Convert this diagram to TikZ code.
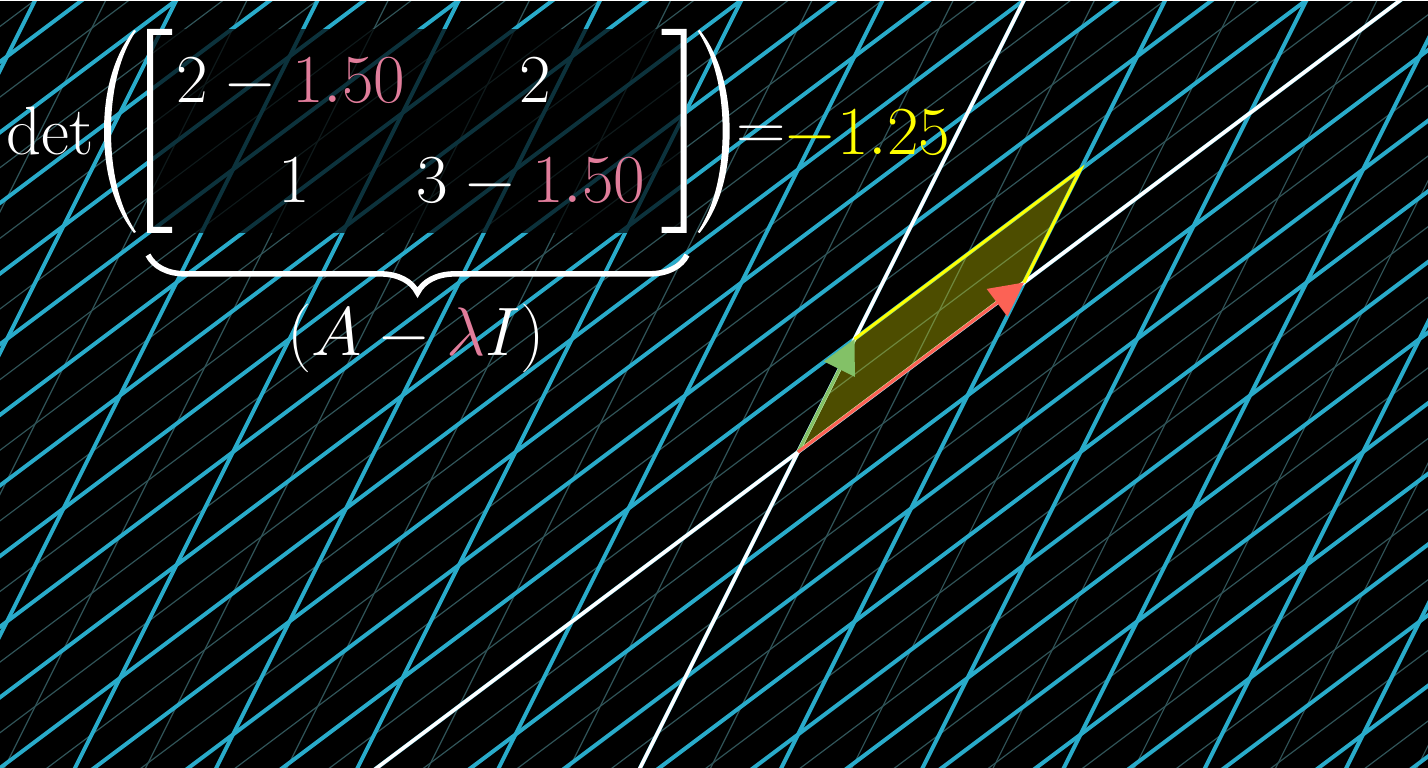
\documentclass[tikz,border=0pt]{standalone}
\usepackage{amsmath}
\usetikzlibrary{arrows.meta,decorations.pathreplacing}
\definecolor{gridblue}{RGB}{41,171,202}
\definecolor{gridfaint}{RGB}{48,84,88}
\definecolor{ivec}{RGB}{131,193,103}
\definecolor{jvec}{RGB}{252,98,85}
\definecolor{lampink}{RGB}{225,125,155}
\definecolor{detyellow}{RGB}{255,255,0}

\begin{document}
\begin{tikzpicture}[
    screen/.style={shift={(0,6.796)},x=0.0088496cm,y=-0.0088496cm},
    txt/.style={text=white,font=\fontsize{17.28}{20}\selectfont,inner sep=0pt},
    vec/.style={line width=0.8pt,-{Triangle[length=8.5pt,width=8.5pt]}}]
  \useasboundingbox (0,0) rectangle (12.637,6.796);
  \fill[black] (0,0) rectangle (12.637,6.796);
  \coordinate (O) at (7.062,2.796);
  \coordinate (I) at (7.562,3.796);
  \coordinate (J) at (9.062,4.296);
  \coordinate (IJ) at (9.562,5.296);
  % grid after A - 1.5 I, columns (0.5,1) and (2,1.5)
  \begin{scope}
    \clip (0,0) rectangle (12.637,6.796);
    \begin{scope}[shift={(O)},cm={0.5,1,2,1.5,(0,0)}]
      \foreach \k in {-12,...,15}
        \draw[gridfaint,line width=0.3pt] (\k+0.5,-9) -- (\k+0.5,7);
      \foreach \k in {-9,...,6}
        \draw[gridfaint,line width=0.3pt] (-13,\k+0.5) -- (16,\k+0.5);
      \foreach \k in {-12,...,15}
        \draw[gridblue,line width=1pt] (\k,-9) -- (\k,7);
      \foreach \k in {-9,...,6}
        \draw[gridblue,line width=1pt] (-13,\k) -- (16,\k);
      % axes
      \draw[white,line width=0.9pt] (-13,0) -- (16,0);
      \draw[white,line width=0.9pt] (0,-9) -- (0,7);
    \end{scope}
  \end{scope}
  % unit cell and basis vectors
  \fill[detyellow,fill opacity=0.3] (O) -- (I) -- (IJ) -- (J) -- cycle;
  \draw[detyellow,line width=0.75pt] (I) -- (IJ) -- (J);
  \draw[vec,ivec] (O) -- (I);
  \draw[vec,jvec] (O) -- (J);
  % formula, placed in pixel units
  \begin{scope}[screen]
    \fill[white] (0,0) rectangle (1428,1.5);
    \fill[black,opacity=0.7] (147,29) rectangle (687,233);
    \node[txt,anchor=base] (det) at (50,155) {$\det$};
    % parentheses
    \fill[white] (134,30) .. controls (112,58) and (104,95) .. (104,131)
      .. controls (104,168) and (112,205) .. (134,233)
      -- (136,232) .. controls (118,205) and (111,168) .. (111,131)
      .. controls (111,95) and (118,58) .. (136,31) -- cycle;
    \fill[white] (699.6,30) .. controls (721.6,58) and (729.6,95) .. (729.6,131)
      .. controls (729.6,168) and (721.6,205) .. (699.6,233)
      -- (697.6,232) .. controls (715.6,205) and (722.6,168) .. (722.6,131)
      .. controls (722.6,95) and (715.6,58) .. (697.6,31) -- cycle;
    % brackets
    \fill[white] (147,29) -- (172,29) -- (172,35) -- (153,35) -- (153,227)
      -- (172,227) -- (172,233) -- (147,233) -- cycle;
    \fill[white] (686.6,29) -- (661.6,29) -- (661.6,35) -- (680.6,35) -- (680.6,227)
      -- (661.6,227) -- (661.6,233) -- (686.6,233) -- cycle;
    % entries
    \node[txt,anchor=base] (a11) at (291,103) {$2-\textcolor{lampink}{1.50}$};
    \node[txt,anchor=base] (a12) at (535,103) {$2$};
    \node[txt,anchor=base] (a21) at (294,203) {$1$};
    \node[txt,anchor=base] (a22) at (531,203) {$3-\textcolor{lampink}{1.50}$};
    \node[txt,anchor=base] (eq) at (761,151) {$=$};
    \node[txt,anchor=base,text=detyellow] (val) at (867,155) {$-1.25$};
    % underbrace
    \draw[white,line width=1.4pt,decorate,decoration={brace,mirror,amplitude=9.5pt}]
      (148,255) -- (687,255);
    \node[txt,anchor=base] (AlamI) at (416,355) {$(A-\textcolor{lampink}{\lambda}I)$};
  \end{scope}
\end{tikzpicture}
\end{document}
